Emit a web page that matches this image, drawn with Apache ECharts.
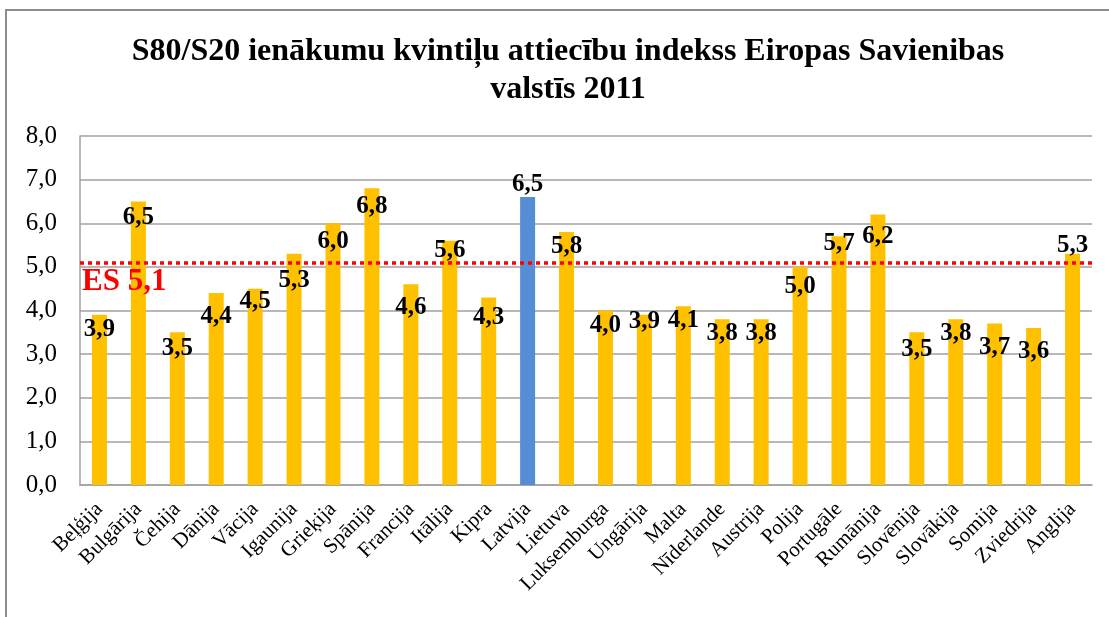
<!DOCTYPE html>
<html>
<head>
<meta charset="utf-8">
<script src="https://cdn.jsdelivr.net/npm/echarts@6/dist/echarts.min.js"></script>
<style>
  html, body { margin: 0; padding: 0; background: #fff; }
  #chart { width: 1109px; height: 617px; }
</style>
</head>
<body>
<div id="chart"></div>
<script>
// valstis
var countries = ['Beļģija', 'Bulgārija', 'Čehija', 'Dānija', 'Vācija', 'Igaunija', 'Grieķija',
    'Spānija', 'Francija', 'Itālija', 'Kipra', 'Latvija', 'Lietuva', 'Luksemburga', 'Ungārija',
    'Malta', 'Nīderlande', 'Austrija', 'Polija', 'Portugāle', 'Rumānija', 'Slovēnija',
    'Slovākija', 'Somija', 'Zviedrija', 'Anglija'];
// stabiņu augstums
var values = [3.9, 6.5, 3.5, 4.4, 4.5, 5.3, 6.0, 6.8, 4.6, 5.6, 4.3, 6.6, 5.8, 4.0, 3.9,
    4.1, 3.8, 3.8, 5.0, 5.7, 6.2, 3.5, 3.8, 3.7, 3.6, 5.3];
// uzraksti virs stabiņiem
var labelTexts = ['3,9', '6,5', '3,5', '4,4', '4,5', '5,3', '6,0', '6,8', '4,6', '5,6', '4,3',
    '6,5', '5,8', '4,0', '3,9', '4,1', '3,8', '3,8', '5,0', '5,7', '6,2', '3,5', '3,8', '3,7',
    '3,6', '5,3'];
var esAverage = 5.1;
var yTicks = [0, 1, 2, 3, 4, 5, 6, 7, 8];

// uzrakstu nobīde (kā Excel oriģinālā)
var labelShift = [-3, -1, -1, 6, -5, 9, 1, 1, 6, -8, 3, -30, -3, -2, -11, -3, -3, -3, 2, -10,
    5, 0, -3, 6, 6, -26];

var chart = echarts.init(document.getElementById('chart'));
var serif = '"Liberation Serif", "Times New Roman", serif';

var barData = values.map(function (v, i) {
    return {
        value: v,
        itemStyle: { color: countries[i] === 'Latvija' ? '#558ED5' : '#FFC000' },
        label: { offset: [0, labelShift[i]] }
    };
});

var option = {
    backgroundColor: '#fff',
    animation: false,
    title: {
        text: 'S80/S20 ienākumu kvintiļu attiecību indekss Eiropas Savienibas\nvalstīs 2011',
        left: 563,
        top: 28,
        textAlign: 'center',
        textStyle: {
            fontFamily: serif,
            fontWeight: 'bold',
            fontSize: 32,
            lineHeight: 38,
            color: '#000'
        }
    },
    graphic: [{
        type: 'rect',
        shape: { x: 6, y: 10, width: 1300, height: 800 },
        style: { fill: 'none', stroke: '#8c8c8c', lineWidth: 2 },
        silent: true
    }],
    grid: { left: 80, right: 17, top: 136, bottom: 132 },
    xAxis: {
        type: 'category',
        data: countries,
        axisTick: { show: false },
        axisLine: { lineStyle: { color: '#a0a0a0', width: 1.5 } },
        axisLabel: {
            rotate: 45,
            interval: 0,
            margin: 21,
            fontFamily: serif,
            fontSize: 21,
            color: '#000'
        }
    },
    yAxis: {
        type: 'value',
        min: yTicks[0],
        max: yTicks[yTicks.length - 1],
        interval: 1,
        axisLine: { show: true, lineStyle: { color: '#a0a0a0', width: 1.5 } },
        axisTick: { show: false },
        splitLine: { lineStyle: { color: '#a0a0a0', width: 1.5 } },
        axisLabel: {
            margin: 23,
            fontFamily: serif,
            fontSize: 25,
            color: '#000',
            formatter: function (v) { return v.toFixed(1).replace('.', ','); }
        }
    },
    series: [{
        type: 'bar',
        barWidth: 15,
        data: barData,
        label: {
            show: true,
            position: 'insideTop',
            fontFamily: serif,
            fontWeight: 'bold',
            fontSize: 25,
            color: '#000',
            formatter: function (p) { return labelTexts[p.dataIndex]; }
        },
        markLine: {
            silent: true,
            symbol: 'none',
            lineStyle: { color: '#FF0000', width: 3.5, type: [4, 4] },
            label: {
                show: true,
                position: 'insideStartBottom',
                distance: [2, 4],
                formatter: 'ES 5,1',
                fontFamily: serif,
                fontWeight: 'bold',
                fontSize: 31,
                color: '#FF0000'
            },
            data: [{ yAxis: esAverage }]
        },
        z: 2
    }]
};

chart.setOption(option);

window.addEventListener('resize', function () {
    chart.resize();
});
</script>
</body>
</html>
